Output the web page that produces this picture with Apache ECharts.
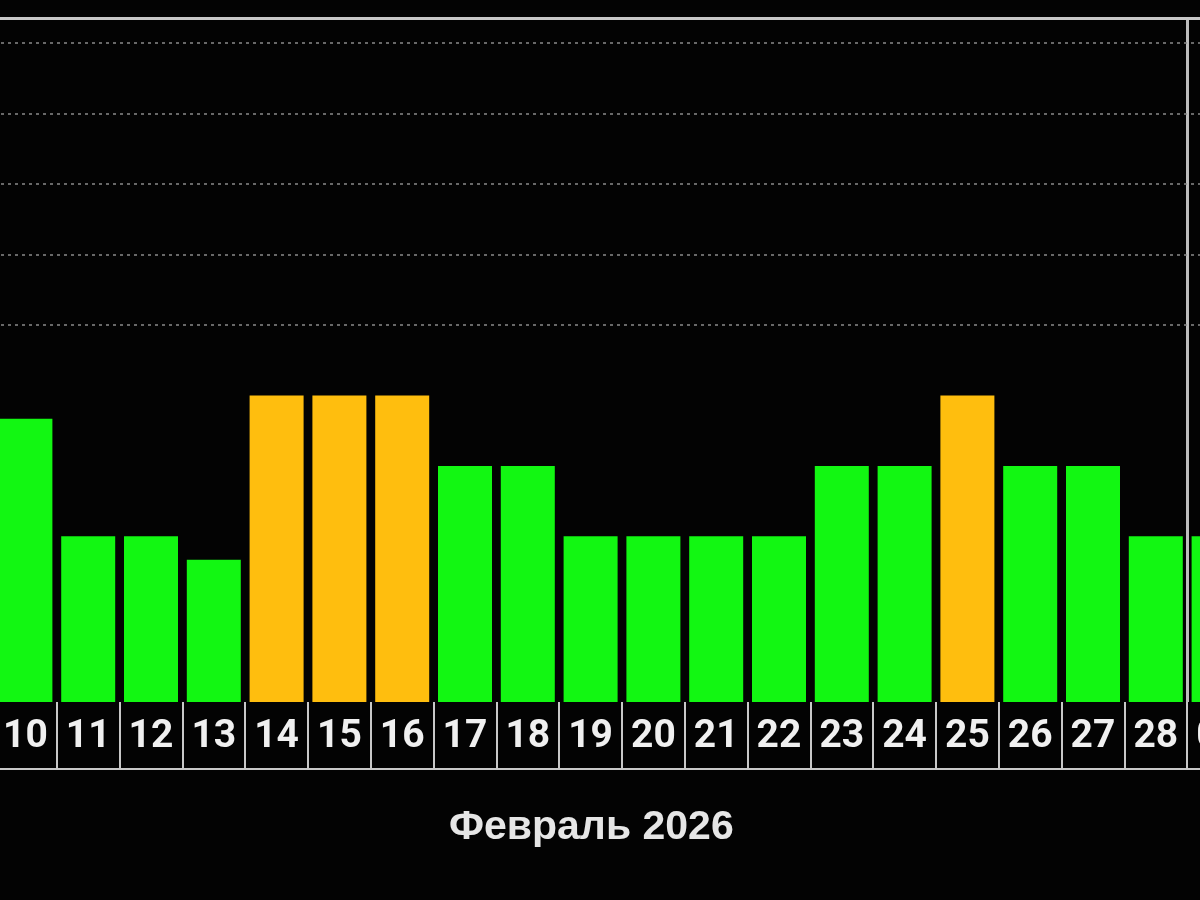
<!DOCTYPE html>
<html>
<head>
<meta charset="utf-8">
<style>
  html, body { margin: 0; padding: 0; background: #030303; overflow: hidden; width: 1200px; height: 900px; position: relative; }
  #chart { position: absolute; left: -6px; top: 0; width: 1256px; height: 900px; }
</style>
<script src="https://cdn.jsdelivr.net/npm/echarts@6/dist/echarts.min.js"></script>
</head>
<body>
<div id="chart"></div>
<script>
// Day labels (February 2026, last one is 1 March)
const days = ['10','11','12','13','14','15','16','17','18','19','20','21','22','23','24','25','26','27','28','01'];
// Kp index per day
const kpValues = [3.67, 2, 2, 1.67, 4, 4, 4, 3, 3, 2, 2, 2, 2, 3, 3, 4, 3, 3, 2, 2];
// Storm levels drawn as dashed lines
const stormLevels = [5, 6, 7, 8, 9];
// Index of the first day of the next month (separator line)
const monthBreakIndex = 19;
const monthTitle = 'Февраль 2026';

const GREEN = '#12f712';
const ORANGE = '#ffbe0e';
const LINE = '#c8c8c8';

const chart = echarts.init(document.getElementById('chart'));
chart.setOption({
  backgroundColor: '#030303',
  animation: false,
  title: {
    text: monthTitle,
    left: 450,
    top: 802,
    textStyle: {
      color: '#e6e6e6',
      fontSize: 41,
      fontWeight: 'bold',
      fontFamily: 'Liberation Sans, Arial, sans-serif'
    }
  },
  grid: { left: 0, right: 0, top: 18, bottom: 198, containLabel: false },
  xAxis: [
    {
      type: 'category',
      data: days,
      position: 'bottom',
      boundaryGap: true,
      axisLine: { show: false, onZero: false },
      axisTick: { show: true, length: 67, lineStyle: { color: LINE, width: 2 } },
      axisLabel: {
        color: '#f0f0f0',
        fontSize: 39,
        fontWeight: 'bold',
        fontFamily: 'Roboto, Liberation Sans, sans-serif',
        margin: 16,
        interval: 0
      },
      splitLine: {
        show: true,
        interval: function (index) { return index === 0 || index === monthBreakIndex; },
        lineStyle: { color: '#bdbdbd', width: 3 }
      }
    },
    {
      type: 'category',
      data: days,
      position: 'top',
      axisLine: { show: true, onZero: false, lineStyle: { color: LINE, width: 3 } },
      axisTick: { show: false },
      axisLabel: { show: false },
      splitLine: { show: false }
    },
    {
      type: 'category',
      data: days,
      position: 'bottom',
      offset: 67,
      axisLine: { show: true, onZero: false, lineStyle: { color: LINE, width: 2 } },
      axisTick: { show: false },
      axisLabel: { show: false },
      splitLine: { show: false }
    }
  ],
  yAxis: {
    type: 'value',
    min: -0.35,
    max: 9.355,
    startValue: -0.35,
    axisLine: { show: false },
    axisTick: { show: false },
    axisLabel: { show: false },
    splitLine: { show: false }
  },
  series: [
    {
      type: 'bar',
      data: kpValues,
      barWidth: 54,
      itemStyle: {
        color: function (p) { return p.value >= 4 ? ORANGE : GREEN; }
      },
      markLine: {
        silent: true,
        symbol: 'none',
        label: { show: false },
        lineStyle: { color: '#8a8a8a', type: [3, 4], width: 1.5 },
        data: stormLevels.map(v => ({ yAxis: v }))
      }
    }
  ]
});
</script>
</body>
</html>
